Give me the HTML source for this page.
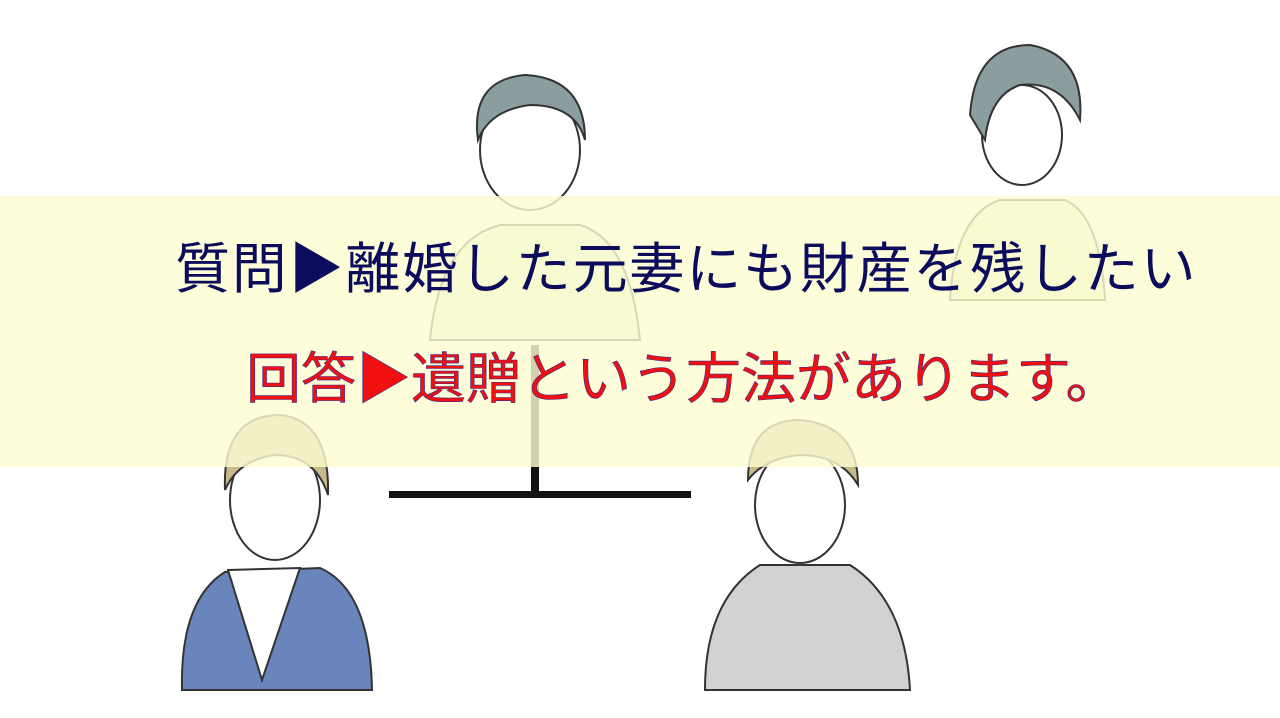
<!DOCTYPE html>
<html><head><meta charset="utf-8"><style>
body{margin:0;width:1280px;height:718px;background:#fff;overflow:hidden;position:relative;font-family:"Liberation Sans","Noto Sans CJK JP",sans-serif}
svg{position:absolute;left:0;top:0}
.band{position:absolute;left:0;top:196px;width:1280px;height:271px;background:rgba(253,253,210,0.82)}
.t{position:absolute;white-space:nowrap;font-size:55px;line-height:1}
.t1{left:175px;top:242px;color:#0c0c5c;letter-spacing:1.8px}
.t2{left:246px;top:352px;color:#f01010;-webkit-text-stroke:0.6px #3a2a8a;letter-spacing:0px}
</style></head><body>
<svg width="1280" height="718">
<g stroke="#333" stroke-width="2">
<path d="M430 340 Q440 240 500 225 L580 225 Q630 240 640 340 Z" fill="#e3efcb"/>
<ellipse cx="530" cy="150" rx="50" ry="60" fill="#fff"/>
<path d="M478 140 Q470 80 525 75 Q585 78 585 140 Q575 105 530 105 Q490 110 478 140Z" fill="#8a9ea0"/>
<path d="M950 300 Q955 215 1000 200 L1065 200 Q1100 215 1105 300 Z" fill="#e6eec0"/>
<ellipse cx="1022" cy="135" rx="40" ry="50" fill="#fff"/>
<path d="M970 115 Q975 45 1030 45 Q1085 55 1080 120 Q1060 80 1020 85 Q990 95 985 140 Z" fill="#8a9ea0"/>
<path d="M182 690 Q180 600 225 572 L320 568 Q370 590 372 690 Z" fill="#6a84bc"/>
<path d="M228 570 L262 680 L300 568 Z" fill="#fff"/>
<ellipse cx="275" cy="500" rx="45" ry="60" fill="#fff"/>
<path d="M225 490 Q222 415 280 415 Q330 420 328 495 Q315 455 275 455 Q238 460 225 490Z" fill="#c9b98a"/>
<path d="M705 690 Q705 600 760 565 L850 565 Q905 600 910 690 Z" fill="#d2d2d2"/>
<ellipse cx="800" cy="505" rx="45" ry="58" fill="#fff"/>
<path d="M748 480 Q748 420 800 420 Q858 425 858 485 Q840 455 800 455 Q765 458 748 480Z" fill="#c9b98a"/>
</g>
<rect x="531" y="345" width="8" height="150" fill="#111"/>
<rect x="389" y="491" width="302" height="7" fill="#111"/>
</svg>
<div class="band"></div>
<div class="t t1">質問▶離婚した元妻にも財産を残したい</div>
<div class="t t2">回答▶遺贈という方法があります。</div>
</body></html>
